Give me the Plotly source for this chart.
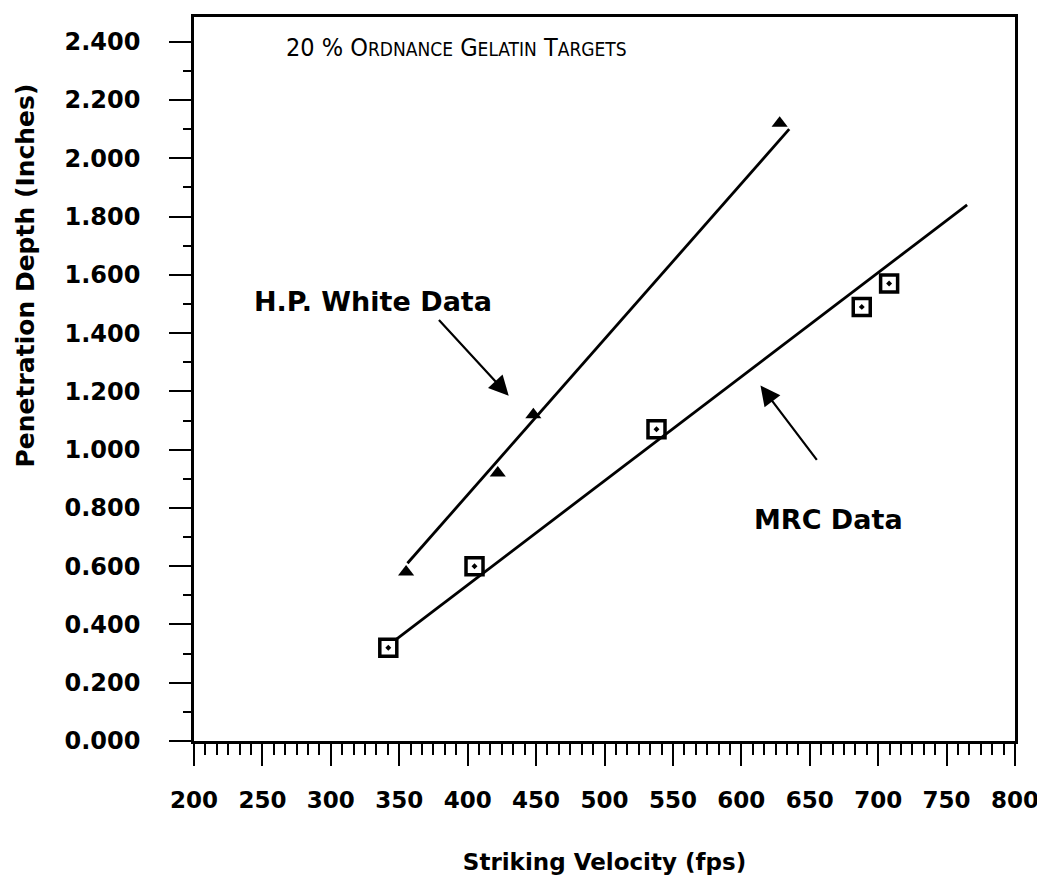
import plotly.graph_objects as go

# ---- data ----
hp_velocity = [355, 422, 448, 628]
hp_depth = [0.58, 0.92, 1.12, 2.12]
hp_fit_velocity = [356, 635]
hp_fit_depth = [0.61, 2.10]

mrc_velocity = [342, 405, 538, 688, 708]
mrc_depth = [0.32, 0.60, 1.07, 1.49, 1.57]
mrc_fit_velocity = [348, 765]
mrc_fit_depth = [0.35, 1.84]

x_ticks = [200, 250, 300, 350, 400, 450, 500, 550, 600, 650, 700, 750, 800]
y_ticks = [0.0, 0.2, 0.4, 0.6, 0.8, 1.0, 1.2, 1.4, 1.6, 1.8, 2.0, 2.2, 2.4]
y_tick_labels = [f"{v:.3f}" for v in y_ticks]

BOLD = "DejaVu Sans"

fig = go.Figure()
fig.add_trace(go.Scatter(x=hp_fit_velocity, y=hp_fit_depth, mode="lines",
                         line=dict(color="black", width=2.8), showlegend=False))
fig.add_trace(go.Scatter(x=mrc_fit_velocity, y=mrc_fit_depth, mode="lines",
                         line=dict(color="black", width=2.8), showlegend=False))
fig.add_trace(go.Scatter(x=hp_velocity, y=hp_depth, mode="markers",
                         marker=dict(symbol="triangle-up", size=14, color="black"),
                         showlegend=False))
fig.add_trace(go.Scatter(x=mrc_velocity, y=mrc_depth, mode="markers",
                         marker=dict(symbol="square-open-dot", size=17, color="black",
                                     line=dict(width=3.5, color="black")),
                         showlegend=False))

# annotations
fig.add_annotation(x=331, y=1.51, xref="x", yref="y", showarrow=False,
                   text="<b>H.P. White Data</b>",
                   font=dict(family=BOLD, size=27, color="black"))
fig.add_annotation(x=430, y=1.185, ax=378, ay=1.45, xref="x", yref="y",
                   axref="x", ayref="y", showarrow=True, arrowhead=2,
                   arrowsize=1.8, arrowwidth=2.2, arrowcolor="black", text="")
fig.add_annotation(x=664, y=0.76, xref="x", yref="y", showarrow=False,
                   text="<b>MRC Data</b>",
                   font=dict(family=BOLD, size=27, color="black"))
fig.add_annotation(x=614, y=1.22, ax=656, ay=0.96, xref="x", yref="y",
                   axref="x", ayref="y", showarrow=True, arrowhead=2,
                   arrowsize=1.8, arrowwidth=2.2, arrowcolor="black", text="")
title_text = ("20 % O<span style='font-size:19px'>RDNANCE</span> "
              "G<span style='font-size:19px'>ELATIN</span> "
              "T<span style='font-size:19px'>ARGETS</span>")
fig.add_annotation(x=266, y=2.38, xref="x", yref="y", xanchor="left",
                   showarrow=False, text=title_text,
                   font=dict(family="DejaVu Sans Condensed, DejaVu Sans", size=25,
                             color="black"))
# y-axis title (placed higher than centre, as in the reference)
fig.add_annotation(x=0, y=0.643, xref="paper", yref="paper", xshift=-169,
                   xanchor="center", yanchor="middle", showarrow=False,
                   textangle=-90, text="<b>Penetration Depth (Inches)</b>",
                   font=dict(family=BOLD, size=25, color="black"))

fig.update_xaxes(range=[200, 800], tickmode="array", tickvals=x_ticks,
                 ticks="outside", ticklen=22, tickwidth=2, tickcolor="black",
                 minor=dict(dtick=50 / 6, ticks="outside", ticklen=11,
                            tickwidth=1.5, tickcolor="black"),
                 showline=True, linecolor="black", linewidth=2.5, mirror=True,
                 showgrid=False, zeroline=False,
                 tickfont=dict(family=BOLD, size=23, color="black", weight="bold"),
                 ticklabeloverflow="allow",
                 ticklabelstandoff=15,
                 title=dict(text="Striking Velocity (fps)", standoff=42,
                            font=dict(family=BOLD, size=23, color="black",
                                      weight="bold")))
fig.update_yaxes(range=[0, 2.485], tickmode="array", tickvals=y_ticks,
                 ticktext=y_tick_labels,
                 ticks="outside", ticklen=22, tickwidth=2, tickcolor="black",
                 minor=dict(dtick=0.1, ticks="outside", ticklen=8,
                            tickwidth=1.5, tickcolor="black"),
                 showline=True, linecolor="black", linewidth=2.5, mirror=True,
                 showgrid=False, zeroline=False,
                 tickfont=dict(family=BOLD, size=24, color="black", weight="bold"),
                 ticklabelstandoff=24)

fig.update_layout(width=1037, height=880, plot_bgcolor="white",
                  paper_bgcolor="white",
                  margin=dict(l=186, r=26, t=6, b=147))

fig.write_html("out.html")
